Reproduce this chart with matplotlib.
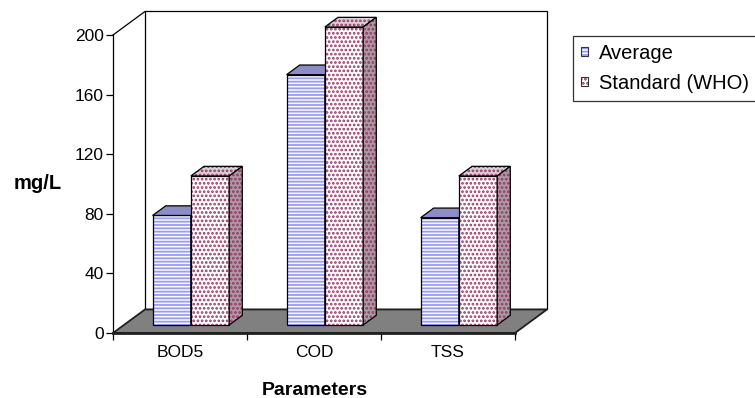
import numpy as np
import matplotlib
matplotlib.use("Agg")
import matplotlib.pyplot as plt
from matplotlib.patches import Polygon, Patch

plt.rcParams['font.family'] = ['Liberation Sans', 'DejaVu Sans']
plt.rcParams['hatch.linewidth'] = 1.3

# data
parameters = ['BOD5', 'COD', 'TSS']
average = [73.5, 168, 72]
standard_who = [100, 200, 100]
series_names = ['Average', 'Standard (WHO)']
y_ticks = [0, 40, 80, 120, 160, 200]

# pseudo 3d settings (depth offset in data units)
DX = 32 / 134.0
DY = 15.8
D0, D1 = 0.34, 0.75
BAR_W = 1 / 3.5

styles = [
    dict(front='white', top='#8c8cc8', side='#7a7ab8', hcol='#9999ff', hatch='-----'),
    dict(front='white', top='#dccfd6', side='#a99ca3', hcol='#993366', hatch='....'),
]

fig = plt.figure(figsize=(7.55, 3.98), dpi=100)
ax = fig.add_axes([113 / 755, 65 / 398, 402 / 755, 298 / 398])
ax.set_xlim(0, 3)
ax.set_ylim(0, 200)


def poly(pts, face, hatch=None, hcol=None, z=2):
    # hatched fill first, then black outline on top
    if hatch:
        ax.add_patch(Polygon(pts, closed=True, facecolor=face, edgecolor=hcol,
                             hatch=hatch, lw=0, zorder=z, clip_on=False))
    else:
        ax.add_patch(Polygon(pts, closed=True, facecolor=face, edgecolor='none',
                             zorder=z, clip_on=False))
    ax.add_patch(Polygon(pts, closed=True, facecolor='none', edgecolor='black',
                         lw=0.9, zorder=z, clip_on=False))


# back wall, left wall edge and floor
poly([(DX, DY), (3 + DX, DY), (3 + DX, 200 + DY), (DX, 200 + DY)], 'white', z=0.5)
ax.plot([0, DX], [200, 200 + DY], color='black', lw=0.9, clip_on=False, zorder=0.6)
ax.add_patch(Polygon([(0, 0), (3, 0), (3 + DX, DY), (DX, DY)], closed=True,
                     facecolor='#808080', edgecolor='#202020', lw=1.3,
                     zorder=0.7, clip_on=False))

# bars
for i in range(len(parameters)):
    start = i + (1 - 2 * BAR_W) / 2
    for j, vals in enumerate([average, standard_who]):
        st = styles[j]
        v = vals[i]
        x0 = start + j * BAR_W + D0 * DX
        x1 = x0 + BAR_W
        yb = D0 * DY
        yt = yb + v
        ddx = (D1 - D0) * DX
        ddy = (D1 - D0) * DY
        z = 2 + i + j * 0.1
        poly([(x0, yb), (x1, yb), (x1, yt), (x0, yt)], st['front'], st['hatch'], st['hcol'], z)
        poly([(x0, yt), (x1, yt), (x1 + ddx, yt + ddy), (x0 + ddx, yt + ddy)],
             st['top'], None if j == 0 else st['hatch'], st['hcol'], z)
        poly([(x1, yb), (x1 + ddx, yb + ddy), (x1 + ddx, yt + ddy), (x1, yt)],
             st['side'], st['hatch'], st['hcol'], z)

# axes styling
for s in ['top', 'right']:
    ax.spines[s].set_visible(False)
ax.spines['left'].set_linewidth(0.9)
ax.spines['bottom'].set_linewidth(2.0)
ax.spines['bottom'].set_color('#202020')
ax.patch.set_visible(False)

ax.set_yticks(y_ticks)
ax.tick_params(axis='y', length=5, width=0.9, labelsize=12.5, pad=1.5)
ax.set_xticks([0, 1, 2, 3])
ax.set_xticklabels([])
ax.tick_params(axis='x', which='major', length=5, width=0.9)
ax.set_xticks([0.5, 1.5, 2.5], minor=True)
ax.set_xticklabels(parameters, minor=True)
ax.tick_params(axis='x', which='minor', length=0, labelsize=12.5, pad=8.5)

fig.text(38 / 755, 1 - 189 / 398, 'mg/L', fontsize=14.5, fontweight='bold',
         ha='center', va='baseline')
fig.text(315 / 755, 1 - 395 / 398, 'Parameters', fontsize=14, fontweight='bold',
         ha='center', va='baseline')

# legend
handles = []
for st in styles:
    handles.append((Patch(facecolor='white', edgecolor=st['hcol'], hatch=st['hatch'], lw=0),
                    Patch(facecolor='none', edgecolor='#333333', lw=0.8)))
leg = fig.legend(handles, series_names, loc='upper left',
                 bbox_to_anchor=(572.5 / 755, 1 - 35.5 / 398), fontsize=14.5,
                 frameon=True, fancybox=False, borderaxespad=0,
                 handlelength=0.35, handleheight=0.35, handletextpad=0.55,
                 labelspacing=0.55, borderpad=0.4)
leg.get_frame().set_edgecolor('black')
leg.get_frame().set_linewidth(0.9)

fig.savefig('out.png', dpi=100)
